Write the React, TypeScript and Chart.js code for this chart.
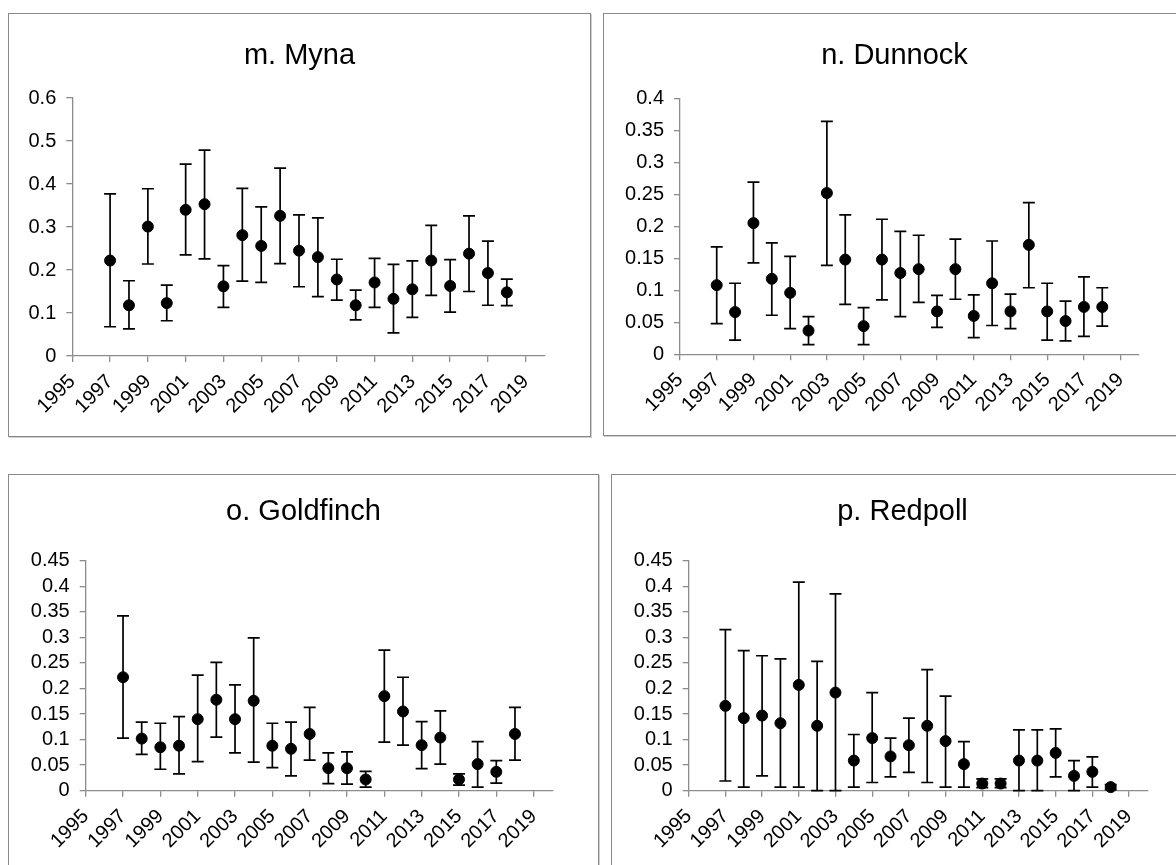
import React, { useEffect, useRef } from "react";
import { Chart, registerables } from "chart.js";

Chart.register(...registerables);

// Survey years with an estimate
const years = [
  1997, 1998, 1999, 2000, 2001, 2002, 2003, 2004, 2005, 2006, 2007,
  2008, 2009, 2010, 2011, 2012, 2013, 2014, 2015, 2016, 2017, 2018,
];

// Axis tick labels
const yearTicks = [1995, 1997, 1999, 2001, 2003, 2005, 2007, 2009, 2011, 2013, 2015, 2017, 2019];
const mynaTicks = [0, 0.1, 0.2, 0.3, 0.4, 0.5, 0.6];
const dunnockTicks = [0, 0.05, 0.1, 0.15, 0.2, 0.25, 0.3, 0.35, 0.4];
const smallFinchTicks = [0, 0.05, 0.1, 0.15, 0.2, 0.25, 0.3, 0.35, 0.4, 0.45];

// m. Myna
const mynaMean = [0.222, 0.118, 0.301, 0.123, 0.34, 0.353, 0.162, 0.281, 0.256, 0.326, 0.245, 0.23, 0.178, 0.118, 0.171, 0.133, 0.155, 0.222, 0.163, 0.238, 0.193, 0.148];
const mynaUpper = [0.377, 0.175, 0.389, 0.165, 0.446, 0.479, 0.21, 0.39, 0.347, 0.437, 0.328, 0.321, 0.225, 0.153, 0.227, 0.213, 0.221, 0.304, 0.224, 0.326, 0.267, 0.179];
const mynaLower = [0.068, 0.063, 0.214, 0.082, 0.235, 0.226, 0.113, 0.174, 0.171, 0.215, 0.161, 0.138, 0.13, 0.084, 0.113, 0.054, 0.09, 0.141, 0.102, 0.15, 0.118, 0.117];

// n. Dunnock
const dunnockMean = [0.108, 0.066, 0.205, 0.118, 0.096, 0.037, 0.252, 0.148, 0.044, 0.148, 0.127, 0.133, 0.067, 0.133, 0.06, 0.111, 0.067, 0.171, 0.067, 0.052, 0.074, 0.074];
const dunnockUpper = [0.168, 0.111, 0.269, 0.174, 0.153, 0.059, 0.364, 0.218, 0.073, 0.211, 0.192, 0.186, 0.092, 0.18, 0.093, 0.177, 0.094, 0.237, 0.111, 0.083, 0.121, 0.104];
const dunnockLower = [0.048, 0.022, 0.143, 0.061, 0.04, 0.015, 0.139, 0.078, 0.015, 0.085, 0.059, 0.081, 0.042, 0.086, 0.026, 0.045, 0.04, 0.104, 0.022, 0.021, 0.028, 0.044];

// o. Goldfinch
const goldfinchMean = [0.222, 0.102, 0.085, 0.088, 0.14, 0.178, 0.14, 0.176, 0.088, 0.082, 0.111, 0.044, 0.044, 0.022, 0.185, 0.155, 0.089, 0.104, 0.022, 0.052, 0.037, 0.111];
const goldfinchUpper = [0.342, 0.134, 0.132, 0.145, 0.226, 0.251, 0.207, 0.299, 0.132, 0.134, 0.163, 0.074, 0.076, 0.038, 0.275, 0.222, 0.135, 0.156, 0.033, 0.096, 0.059, 0.163];
const goldfinchLower = [0.103, 0.071, 0.042, 0.033, 0.057, 0.105, 0.074, 0.056, 0.045, 0.029, 0.06, 0.014, 0.013, 0.007, 0.095, 0.089, 0.043, 0.052, 0.011, 0.007, 0.015, 0.06];

// p. Redpoll
const redpollMean = [0.166, 0.142, 0.147, 0.132, 0.207, 0.127, 0.192, 0.059, 0.103, 0.067, 0.089, 0.127, 0.097, 0.052, 0.014, 0.014, 0.059, 0.059, 0.074, 0.029, 0.037, 0.007];
const redpollUpper = [0.315, 0.274, 0.264, 0.258, 0.408, 0.253, 0.385, 0.11, 0.192, 0.103, 0.142, 0.237, 0.185, 0.096, 0.023, 0.023, 0.119, 0.119, 0.121, 0.059, 0.066, 0.012];
const redpollLower = [0.019, 0.007, 0.029, 0.007, 0.007, 0, 0, 0.007, 0.016, 0.027, 0.036, 0.016, 0.007, 0.007, 0.006, 0.006, 0, 0, 0.027, 0, 0.007, 0.002];

const FONT = "'Liberation Sans', Arial, Helvetica, sans-serif";
const AXIS_GREY = "#8c8c8c";

// Vertical whiskers with caps, drawn beneath the markers
const errorBarsPlugin = {
  id: "errorBars",
  beforeDatasetsDraw(chart: any) {
    const { ctx } = chart;
    const xs = chart.scales.x;
    const ys = chart.scales.y;
    const cap = 6;
    chart.data.datasets.forEach((ds: any) => {
      if (!ds.errLow || !ds.errHigh) return;
      ctx.save();
      ctx.strokeStyle = "#000";
      ctx.lineWidth = 1.7;
      ds.data.forEach((pt: any, i: number) => {
        const px = xs.getPixelForValue(pt.x);
        const lo = ys.getPixelForValue(ds.errLow[i]);
        const hi = ys.getPixelForValue(ds.errHigh[i]);
        ctx.beginPath();
        ctx.moveTo(px, lo);
        ctx.lineTo(px, hi);
        ctx.moveTo(px - cap, lo);
        ctx.lineTo(px + cap, lo);
        ctx.moveTo(px - cap, hi);
        ctx.lineTo(px + cap, hi);
        ctx.stroke();
      });
      ctx.restore();
    });
  },
};

type PanelSpec = {
  title: string;
  mean: number[];
  upper: number[];
  lower: number[];
  yTicks: number[];
  box: { left: number; top: number; width: number; height: number };
  yAxisWidth: number;
  rightGap: number;
  xAxisHeight: number;
  titlePadTop: number;
  titlePadBottom: number;
};

const panels: PanelSpec[] = [
  {
    title: "m. Myna",
    mean: mynaMean,
    upper: mynaUpper,
    lower: mynaLower,
    yTicks: mynaTicks,
    box: { left: 8, top: 13, width: 583, height: 424 },
    yAxisWidth: 63.3,
    rightGap: 45.4,
    xAxisHeight: 80,
    titlePadTop: 24.5,
    titlePadBottom: 24.7,
  },
  {
    title: "n. Dunnock",
    mean: dunnockMean,
    upper: dunnockUpper,
    lower: dunnockLower,
    yTicks: dunnockTicks,
    box: { left: 603, top: 13, width: 583, height: 423 },
    yAxisWidth: 76,
    rightGap: 46,
    xAxisHeight: 80.7,
    titlePadTop: 24.5,
    titlePadBottom: 25,
  },
  {
    title: "o. Goldfinch",
    mean: goldfinchMean,
    upper: goldfinchUpper,
    lower: goldfinchLower,
    yTicks: smallFinchTicks,
    box: { left: 8, top: 474, width: 591, height: 402 },
    yAxisWidth: 76.7,
    rightGap: 45.7,
    xAxisHeight: 84.3,
    titlePadTop: 19.5,
    titlePadBottom: 31.4,
  },
  {
    title: "p. Redpoll",
    mean: redpollMean,
    upper: redpollUpper,
    lower: redpollLower,
    yTicks: smallFinchTicks,
    box: { left: 611, top: 474, width: 583, height: 402 },
    yAxisWidth: 76.7,
    rightGap: 45.6,
    xAxisHeight: 84.3,
    titlePadTop: 19.5,
    titlePadBottom: 31.4,
  },
];

function Panel({ spec }: { spec: PanelSpec }) {
  const canvasRef = useRef<HTMLCanvasElement | null>(null);
  const w = spec.box.width - 2;
  const h = spec.box.height - 2;

  useEffect(() => {
    const canvas = canvasRef.current;
    if (!canvas) return;
    const yMax = spec.yTicks[spec.yTicks.length - 1];
    const tickFont = { family: FONT, size: 20 };
    const chart = new Chart(canvas, {
      type: "scatter",
      data: {
        datasets: [
          {
            data: years.map((yr, i) => ({ x: yr, y: spec.mean[i] })),
            errLow: spec.lower,
            errHigh: spec.upper,
            showLine: false,
            pointRadius: 5.5,
            pointBorderWidth: 1,
            pointBackgroundColor: "#000",
            pointBorderColor: "#000",
            clip: false,
          } as any,
        ],
      },
      options: {
        animation: false,
        responsive: false,
        events: [],
        layout: { padding: 0 },
        plugins: {
          legend: { display: false },
          tooltip: { enabled: false },
          title: {
            display: true,
            text: spec.title,
            color: "#000",
            font: { family: FONT, size: 29, weight: "normal", lineHeight: 1.2 },
            padding: { top: spec.titlePadTop, bottom: spec.titlePadBottom },
          },
        },
        scales: {
          x: {
            type: "linear",
            min: 1995,
            max: 2020,
            afterBuildTicks: (s: any) => {
              s.ticks = yearTicks.map((v) => ({ value: v }));
            },
            afterFit: (s: any) => {
              s.height = spec.xAxisHeight;
            },
            grid: {
              display: true,
              drawOnChartArea: false,
              drawTicks: true,
              tickLength: 6,
              color: AXIS_GREY,
              lineWidth: 1.3,
            },
            border: { display: true, color: AXIS_GREY, width: 1.3 },
            ticks: {
              color: "#000",
              font: tickFont,
              minRotation: 45,
              maxRotation: 45,
              padding: 8,
              autoSkip: false,
              callback: (v: any) => String(v),
            },
          },
          y: {
            type: "linear",
            position: "left",
            min: 0,
            max: yMax,
            afterBuildTicks: (s: any) => {
              s.ticks = spec.yTicks.map((v) => ({ value: v }));
            },
            afterFit: (s: any) => {
              s.width = spec.yAxisWidth;
            },
            grid: {
              display: true,
              drawOnChartArea: false,
              drawTicks: true,
              tickLength: 6,
              color: AXIS_GREY,
              lineWidth: 1.3,
            },
            border: { display: true, color: AXIS_GREY, width: 1.3 },
            ticks: {
              color: "#000",
              font: tickFont,
              padding: 10,
              autoSkip: false,
              callback: (v: any) => String(Number(Number(v).toFixed(2))),
            },
          },
          // empty right-hand margin so the plot keeps the panel's right gap
          yRight: {
            type: "linear",
            position: "right",
            display: true,
            grid: { display: false },
            border: { display: false },
            ticks: { display: false },
            afterFit: (s: any) => {
              s.width = spec.rightGap;
            },
          },
        },
      } as any,
      plugins: [errorBarsPlugin],
    });
    return () => chart.destroy();
  }, [spec]);

  return (
    <div
      style={{
        position: "absolute",
        left: spec.box.left,
        top: spec.box.top,
        width: spec.box.width,
        height: spec.box.height,
        boxSizing: "border-box",
        border: "1px solid #898989",
        boxShadow: "1px 1px 0 #cfcfcf",
        background: "#fff",
      }}
    >
      <canvas ref={canvasRef} width={w} height={h} style={{ display: "block", width: w, height: h }} />
    </div>
  );
}

export default function App() {
  return (
    <div
      style={{
        position: "fixed",
        left: 0,
        top: 0,
        width: 1176,
        height: 865,
        overflow: "hidden",
        background: "#fff",
      }}
    >
      {panels.map((p) => (
        <Panel key={p.title} spec={p} />
      ))}
    </div>
  );
}
